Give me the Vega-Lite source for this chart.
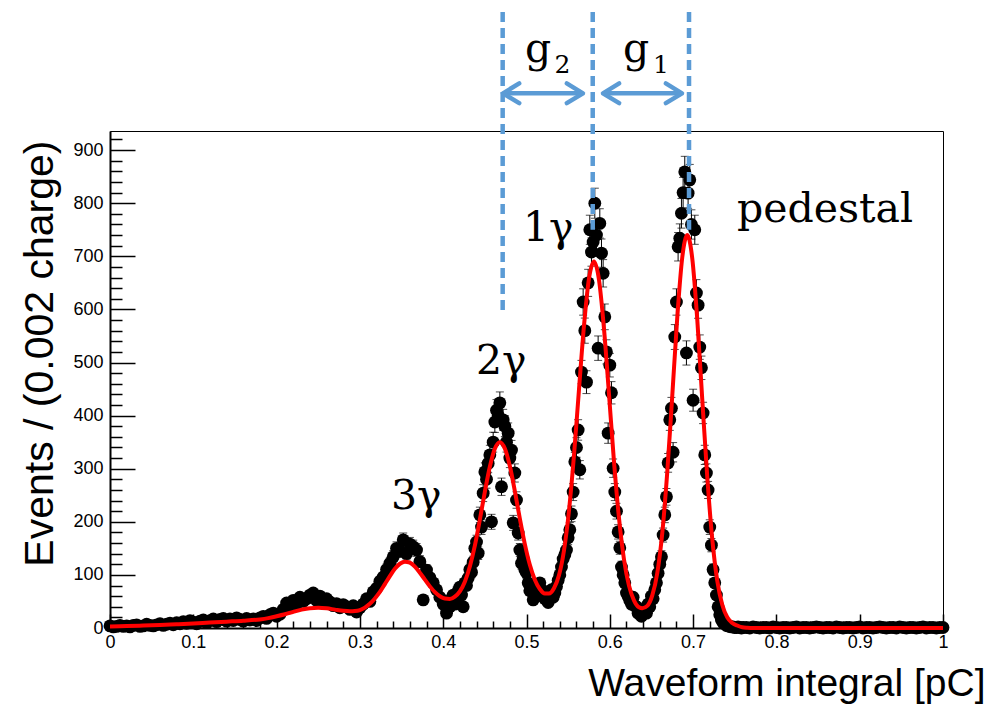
{
  "$schema": "https://vega.github.io/schema/vega-lite/v6.json",
  "autosize": {"type": "none"},
  "padding": {"left": 110, "top": 131, "right": 49, "bottom": 80},
  "width": 833,
  "height": 497,
  "background": "white",
  "config": {
    "view": {"stroke": "black", "strokeWidth": 1},
    "axis": {
      "domainColor": "black", "domainWidth": 2, "tickColor": "black", "tickWidth": 1.5,
      "labelColor": "black", "labelFont": "Liberation Sans", "labelFontSize": 18,
      "titleColor": "black", "titleFont": "Liberation Sans", "titleFontWeight": "normal",
      "grid": false, "labelFlush": false, "labelOverlap": false, "labelBound": false, "zindex": 1
    }
  },
  "datasets": {
    "hist": [
      {"x":0,"y":4},{"x":0.004,"y":2},{"x":0.008,"y":3},{"x":0.012,"y":5},{"x":0.016,"y":3},{"x":0.02,"y":4},{"x":0.024,"y":2},{"x":0.028,"y":5},{"x":0.032,"y":6},{"x":0.036,"y":3},{"x":0.04,"y":4},{"x":0.044,"y":7},{"x":0.048,"y":5},{"x":0.052,"y":4},{"x":0.056,"y":6},{"x":0.06,"y":8},{"x":0.064,"y":5},{"x":0.068,"y":7},{"x":0.072,"y":9},{"x":0.076,"y":6},{"x":0.08,"y":10},{"x":0.084,"y":8},{"x":0.088,"y":12},{"x":0.092,"y":9},{"x":0.096,"y":14},{"x":0.1,"y":11},{"x":0.104,"y":8},{"x":0.108,"y":13},{"x":0.112,"y":15},{"x":0.116,"y":10},{"x":0.12,"y":14},{"x":0.124,"y":17},{"x":0.128,"y":12},{"x":0.132,"y":16},{"x":0.136,"y":18},{"x":0.14,"y":13},{"x":0.144,"y":17},{"x":0.148,"y":14},{"x":0.152,"y":19},{"x":0.156,"y":16},{"x":0.16,"y":13},{"x":0.164,"y":18},{"x":0.168,"y":15},{"x":0.172,"y":17},{"x":0.176,"y":14},{"x":0.18,"y":19},{"x":0.184,"y":22},{"x":0.188,"y":18},{"x":0.192,"y":25},{"x":0.196,"y":28},{"x":0.2,"y":22},{"x":0.204,"y":26},{"x":0.208,"y":35},{"x":0.212,"y":47},{"x":0.216,"y":38},{"x":0.22,"y":52},{"x":0.224,"y":45},{"x":0.228,"y":58},{"x":0.232,"y":50},{"x":0.236,"y":55},{"x":0.24,"y":62},{"x":0.244,"y":66},{"x":0.248,"y":52},{"x":0.252,"y":60},{"x":0.256,"y":48},{"x":0.26,"y":55},{"x":0.264,"y":49},{"x":0.268,"y":42},{"x":0.272,"y":46},{"x":0.276,"y":38},{"x":0.28,"y":44},{"x":0.284,"y":40},{"x":0.288,"y":35},{"x":0.292,"y":42},{"x":0.296,"y":30},
      {"x":0.3,"y":38},{"x":0.304,"y":45},{"x":0.308,"y":55},{"x":0.312,"y":50},{"x":0.316,"y":68},{"x":0.32,"y":75},{"x":0.324,"y":88},{"x":0.328,"y":96},{"x":0.332,"y":110,"e":10.5},{"x":0.336,"y":122,"e":11},{"x":0.34,"y":134,"e":11.6},{"x":0.344,"y":150,"e":12.2},{"x":0.348,"y":145,"e":12},{"x":0.352,"y":166,"e":12.9},{"x":0.356,"y":140,"e":11.8},{"x":0.36,"y":158,"e":12.6},{"x":0.364,"y":153,"e":12.4},{"x":0.368,"y":147,"e":12.1},{"x":0.372,"y":125,"e":11.2},{"x":0.376,"y":53},{"x":0.38,"y":109,"e":10.4},{"x":0.384,"y":95},{"x":0.388,"y":85},{"x":0.392,"y":72},{"x":0.396,"y":58},
      {"x":0.4,"y":45},{"x":0.402,"y":50},{"x":0.404,"y":28},{"x":0.406,"y":48},{"x":0.408,"y":40},{"x":0.41,"y":55},{"x":0.412,"y":62},{"x":0.414,"y":45},{"x":0.416,"y":60},{"x":0.418,"y":70},{"x":0.42,"y":77},{"x":0.422,"y":62},{"x":0.424,"y":40},{"x":0.426,"y":85},{"x":0.428,"y":80},{"x":0.43,"y":94},{"x":0.432,"y":110,"e":10.5},{"x":0.434,"y":105,"e":10.2},{"x":0.436,"y":124,"e":11.1},{"x":0.438,"y":150,"e":12.2},{"x":0.44,"y":162,"e":12.7},{"x":0.442,"y":141,"e":11.9},{"x":0.444,"y":213,"e":14.6},{"x":0.446,"y":190,"e":13.8},{"x":0.448,"y":254,"e":15.9},{"x":0.45,"y":294,"e":17.1},{"x":0.452,"y":280,"e":16.7},{"x":0.454,"y":310,"e":17.6},{"x":0.456,"y":326,"e":18.1},{"x":0.458,"y":200,"e":14.1},{"x":0.46,"y":350,"e":18.7},{"x":0.462,"y":388,"e":19.7},{"x":0.464,"y":410,"e":20.2},{"x":0.466,"y":400,"e":20},{"x":0.468,"y":424,"e":20.6},{"x":0.47,"y":266,"e":16.3},{"x":0.472,"y":392,"e":19.8},{"x":0.474,"y":380,"e":19.5},{"x":0.476,"y":350,"e":18.7},{"x":0.478,"y":367,"e":19.2},{"x":0.48,"y":320,"e":17.9},{"x":0.482,"y":335,"e":18.3},{"x":0.484,"y":198,"e":14.1},{"x":0.486,"y":292,"e":17.1},{"x":0.488,"y":241,"e":15.5},{"x":0.49,"y":179,"e":13.4},{"x":0.492,"y":147,"e":12.1},{"x":0.494,"y":122,"e":11},{"x":0.496,"y":130,"e":11.4},{"x":0.498,"y":110,"e":10.5},{"x":0.5,"y":104,"e":10.2},{"x":0.502,"y":85},{"x":0.504,"y":70},{"x":0.506,"y":77},{"x":0.508,"y":53},{"x":0.51,"y":77},{"x":0.512,"y":60},{"x":0.514,"y":70},{"x":0.516,"y":85},{"x":0.518,"y":65},
      {"x":0.52,"y":70},{"x":0.522,"y":55},{"x":0.524,"y":62},{"x":0.526,"y":48},{"x":0.528,"y":60},{"x":0.53,"y":72},{"x":0.532,"y":58},{"x":0.534,"y":66},{"x":0.536,"y":78},{"x":0.538,"y":90},{"x":0.54,"y":100,"e":10},{"x":0.542,"y":115,"e":10.7},{"x":0.544,"y":130,"e":11.4},{"x":0.546,"y":138,"e":11.7},{"x":0.548,"y":147,"e":12.1},{"x":0.55,"y":170,"e":13},{"x":0.552,"y":185,"e":13.6},{"x":0.554,"y":215,"e":14.7},{"x":0.556,"y":256,"e":16},{"x":0.558,"y":313,"e":17.7},{"x":0.56,"y":340,"e":18.4},{"x":0.562,"y":373,"e":19.3},{"x":0.564,"y":298,"e":17.3},{"x":0.566,"y":482,"e":22},{"x":0.568,"y":614,"e":24.8},{"x":0.57,"y":560,"e":23.7},{"x":0.572,"y":463,"e":21.5},{"x":0.574,"y":650,"e":25.5},{"x":0.576,"y":750,"e":27.4},{"x":0.578,"y":708,"e":26.6},{"x":0.58,"y":727,"e":27},{"x":0.582,"y":800,"e":28.3},{"x":0.584,"y":740,"e":27.2},{"x":0.586,"y":527,"e":23},{"x":0.588,"y":762,"e":27.6},{"x":0.59,"y":706,"e":26.6},{"x":0.592,"y":668,"e":25.8},{"x":0.594,"y":586,"e":24.2},{"x":0.596,"y":520,"e":22.8},{"x":0.598,"y":367,"e":19.2},{"x":0.6,"y":495,"e":22.2},{"x":0.602,"y":443,"e":21},{"x":0.604,"y":301,"e":17.3},{"x":0.606,"y":256,"e":16},{"x":0.608,"y":220,"e":14.8},{"x":0.61,"y":181,"e":13.5},{"x":0.612,"y":151,"e":12.3},{"x":0.614,"y":115,"e":10.7},{"x":0.616,"y":100,"e":10},{"x":0.618,"y":85},{"x":0.62,"y":66},{"x":0.622,"y":60},{"x":0.624,"y":52},{"x":0.626,"y":45},{"x":0.628,"y":58},{"x":0.63,"y":42},{"x":0.632,"y":40},{"x":0.634,"y":28},
      {"x":0.636,"y":30},{"x":0.638,"y":22},{"x":0.64,"y":35},{"x":0.642,"y":30},{"x":0.644,"y":28},{"x":0.646,"y":45},{"x":0.648,"y":40},{"x":0.65,"y":60},{"x":0.652,"y":55},{"x":0.654,"y":72},{"x":0.656,"y":85},{"x":0.658,"y":103,"e":10.1},{"x":0.66,"y":120,"e":11},{"x":0.662,"y":134,"e":11.6},{"x":0.664,"y":175,"e":13.2},{"x":0.666,"y":213,"e":14.6},{"x":0.668,"y":247,"e":15.7},{"x":0.67,"y":311,"e":17.6},{"x":0.672,"y":392,"e":19.8},{"x":0.674,"y":414,"e":20.3},{"x":0.676,"y":331,"e":18.2},{"x":0.678,"y":548,"e":23.4},{"x":0.68,"y":614,"e":24.8},{"x":0.682,"y":718,"e":26.8},{"x":0.684,"y":734,"e":27.1},{"x":0.686,"y":781,"e":27.9},{"x":0.688,"y":820,"e":28.6},{"x":0.69,"y":859,"e":29.3},{"x":0.692,"y":518,"e":22.8},{"x":0.694,"y":819,"e":28.6},{"x":0.696,"y":844,"e":29.1},{"x":0.698,"y":760,"e":27.6},{"x":0.7,"y":429,"e":20.7},{"x":0.702,"y":750,"e":27.4},{"x":0.704,"y":631,"e":25.1},{"x":0.706,"y":608,"e":24.7},{"x":0.708,"y":529,"e":23},{"x":0.71,"y":490,"e":22.1},{"x":0.712,"y":405,"e":20.1},{"x":0.714,"y":326,"e":18.1},{"x":0.716,"y":292,"e":17.1},{"x":0.718,"y":260,"e":16.1},{"x":0.72,"y":190,"e":13.8},{"x":0.722,"y":156,"e":12.5},{"x":0.724,"y":110,"e":10.5},{"x":0.726,"y":85},{"x":0.728,"y":62},{"x":0.73,"y":40},{"x":0.732,"y":25},{"x":0.734,"y":15},{"x":0.736,"y":10},{"x":0.738,"y":8},{"x":0.74,"y":5},{"x":0.742,"y":4},{"x":0.744,"y":3},{"x":0.746,"y":2},{"x":0.748,"y":2},{"x":0.75,"y":1},
      {"x":0.752,"y":1},{"x":0.754,"y":2},{"x":0.756,"y":1},{"x":0.758,"y":0},{"x":0.76,"y":1},{"x":0.764,"y":1},{"x":0.768,"y":0},{"x":0.772,"y":2},{"x":0.776,"y":1},{"x":0.78,"y":0},{"x":0.784,"y":1},{"x":0.788,"y":1},{"x":0.792,"y":0},{"x":0.796,"y":2},{"x":0.8,"y":1},{"x":0.804,"y":0},{"x":0.808,"y":1},{"x":0.812,"y":1},{"x":0.816,"y":0},{"x":0.82,"y":1},{"x":0.824,"y":2},{"x":0.828,"y":0},{"x":0.832,"y":1},{"x":0.836,"y":1},{"x":0.84,"y":0},{"x":0.844,"y":1},{"x":0.848,"y":2},{"x":0.852,"y":1},{"x":0.856,"y":0},{"x":0.86,"y":1},{"x":0.864,"y":1},{"x":0.868,"y":0},{"x":0.872,"y":2},{"x":0.876,"y":1},{"x":0.88,"y":0},{"x":0.884,"y":1},{"x":0.888,"y":1},{"x":0.892,"y":0},{"x":0.896,"y":1},{"x":0.9,"y":2},{"x":0.904,"y":0},{"x":0.908,"y":1},{"x":0.912,"y":1},{"x":0.916,"y":0},{"x":0.92,"y":1},{"x":0.924,"y":2},{"x":0.928,"y":1},{"x":0.932,"y":0},{"x":0.936,"y":1},{"x":0.94,"y":1},{"x":0.944,"y":0},{"x":0.948,"y":2},{"x":0.952,"y":1},{"x":0.956,"y":0},{"x":0.96,"y":1},{"x":0.964,"y":1},{"x":0.968,"y":0},{"x":0.972,"y":1},{"x":0.976,"y":2},{"x":0.98,"y":0},{"x":0.984,"y":1},{"x":0.988,"y":1},{"x":0.992,"y":0},{"x":0.996,"y":1},{"x":1,"y":1}
    ],
    "fit": [
      {"x":0,"y":3},{"x":0.02,"y":3.7},{"x":0.04,"y":4.5},{"x":0.06,"y":5.5},{"x":0.08,"y":7},{"x":0.1,"y":8.5},{"x":0.12,"y":10.3},{"x":0.14,"y":12},{"x":0.16,"y":13.7},{"x":0.18,"y":16.2},{"x":0.19,"y":18.6},{"x":0.2,"y":22},{"x":0.21,"y":25.8},{"x":0.22,"y":30.4},{"x":0.23,"y":34.6},{"x":0.24,"y":37.4},{"x":0.25,"y":38.2},{"x":0.26,"y":37.1},{"x":0.27,"y":34.6},{"x":0.28,"y":32.3},{"x":0.288,"y":31.5},{"x":0.294,"y":31.9},{"x":0.3,"y":33.8},{"x":0.306,"y":38.4},{"x":0.312,"y":45.5},{"x":0.318,"y":55.6},{"x":0.324,"y":67.9},{"x":0.33,"y":82.7},{"x":0.336,"y":97.7},{"x":0.342,"y":111.6},{"x":0.348,"y":121},{"x":0.354,"y":125},{"x":0.36,"y":123},{"x":0.366,"y":115.6},{"x":0.372,"y":104.2},{"x":0.378,"y":91.2},{"x":0.384,"y":78.4},{"x":0.39,"y":67.5},{"x":0.396,"y":59.8},{"x":0.402,"y":55.4},{"x":0.408,"y":54.7},{"x":0.414,"y":59},{"x":0.42,"y":69},{"x":0.426,"y":87.3},{"x":0.432,"y":115.8},{"x":0.438,"y":155},{"x":0.444,"y":204},{"x":0.45,"y":256.5},{"x":0.456,"y":303.7},{"x":0.462,"y":337.5},{"x":0.468,"y":350},{"x":0.474,"y":338},{"x":0.48,"y":305},{"x":0.486,"y":258},{"x":0.492,"y":206},{"x":0.498,"y":158},{"x":0.504,"y":119},{"x":0.51,"y":91},{"x":0.516,"y":73.4},{"x":0.522,"y":65},{"x":0.527,"y":64.9},{"x":0.533,"y":74.9},{"x":0.539,"y":99.2},{"x":0.545,"y":146},{"x":0.551,"y":221},{"x":0.557,"y":325},{"x":0.563,"y":449},{"x":0.569,"y":569},{"x":0.575,"y":658},{"x":0.581,"y":690},{"x":0.587,"y":656},{"x":0.593,"y":564},{"x":0.599,"y":441},{"x":0.605,"y":314},{"x":0.611,"y":207.5},{"x":0.617,"y":129.6},{"x":0.623,"y":79.9},{"x":0.629,"y":52.1},{"x":0.635,"y":39.1},{"x":0.639,"y":37.3},{"x":0.645,"y":41.7},{"x":0.651,"y":61.4},{"x":0.657,"y":103.6},{"x":0.663,"y":179},{"x":0.669,"y":294},{"x":0.675,"y":437.5},{"x":0.681,"y":585},{"x":0.687,"y":698},{"x":0.693,"y":740},{"x":0.699,"y":696},{"x":0.705,"y":581},{"x":0.711,"y":430.5},{"x":0.717,"y":284.5},{"x":0.723,"y":167.5},{"x":0.729,"y":89},{"x":0.735,"y":43.8},{"x":0.741,"y":20.2},{"x":0.747,"y":9.4},{"x":0.753,"y":4.7},{"x":0.759,"y":1.3},{"x":0.765,"y":0.4},{"x":0.772,"y":0},{"x":1,"y":0}
    ],
    "vlines": [
      {"x":0.4714,"y":1160,"y2":589},
      {"x":0.5795,"y":1160,"y2":750},
      {"x":0.6951,"y":1160,"y2":750}
    ],
    "shafts": [
      {"x":0.4728,"x2":0.5668,"y":1007},
      {"x":0.5928,"x2":0.6857,"y":1007}
    ],
    "heads": [
      {"x":0.4718,"y":1007,"dir":"L"},
      {"x":0.5678,"y":1007,"dir":"R"},
      {"x":0.5918,"y":1007,"dir":"L"},
      {"x":0.6867,"y":1007,"dir":"R"}
    ],
    "labels": [
      {"x":0.7527,"y":765,"t":"pedestal"},
      {"x":0.4958,"y":729,"t":"1γ"},
      {"x":0.4394,"y":478,"t":"2γ"},
      {"x":0.3373,"y":224,"t":"3γ"},
      {"x":0.4982,"y":1066,"t":"g"},
      {"x":0.6158,"y":1066,"t":"g"}
    ],
    "subs": [
      {"x":0.5336,"y":1045,"t":"2"},
      {"x":0.6518,"y":1045,"t":"1"}
    ]
  },
  "encoding": {
    "x": {
      "field": "x", "type": "quantitative",
      "scale": {"domain": [0, 1], "nice": false, "zero": false},
      "axis": {
        "title": "Waveform integral [pC]", "titleFontSize": 39,
        "titleAnchor": null, "titleAlign": "right", "titleBaseline": "alphabetic", "titleX": 875, "titleY": 67,
        "values": [0,0.02,0.04,0.06,0.08,0.1,0.12,0.14,0.16,0.18,0.2,0.22,0.24,0.26,0.28,0.3,0.32,0.34,0.36,0.38,0.4,0.42,0.44,0.46,0.48,0.5,0.52,0.54,0.56,0.58,0.6,0.62,0.64,0.66,0.68,0.7,0.72,0.74,0.76,0.78,0.8,0.82,0.84,0.86,0.88,0.9,0.92,0.94,0.96,0.98,1],
        "labelExpr": "abs(datum.value*10 - round(datum.value*10)) < 0.000001 ? format(datum.value, '~g') : ''",
        "tickSize": {"condition": {"test": "abs(datum.value*10 - round(datum.value*10)) < 0.000001", "value": -14}, "value": -7},
        "labelPadding": 19
      }
    },
    "y": {
      "field": "y", "type": "quantitative",
      "scale": {"domain": [0, 936], "nice": false},
      "axis": {
        "title": "Events / (0.002 charge)", "titleFontSize": 41,
        "titleAnchor": null, "titleAngle": -90, "titleAlign": "right", "titleBaseline": "alphabetic", "titleX": -58, "titleY": 9,
        "values": [0,20,40,60,80,100,120,140,160,180,200,220,240,260,280,300,320,340,360,380,400,420,440,460,480,500,520,540,560,580,600,620,640,660,680,700,720,740,760,780,800,820,840,860,880,900,920],
        "labelExpr": "datum.value % 100 === 0 ? format(datum.value, 'd') : ''",
        "tickSize": {"condition": {"test": "datum.value % 100 === 0", "value": -25}, "value": -12},
        "labelPadding": 32
      }
    }
  },
  "layer": [
    {
      "data": {"name": "hist"},
      "transform": [{"filter": "isValid(datum.e)"}],
      "mark": {"type": "errorbar", "color": "black", "thickness": 1, "ticks": {"size": 8, "thickness": 1, "color": "black"}},
      "encoding": {"yError": {"field": "e"}}
    },
    {
      "data": {"name": "hist"},
      "mark": {"type": "circle", "size": 165, "color": "black", "opacity": 1}
    },
    {
      "data": {"name": "fit"},
      "mark": {"type": "line", "color": "#ff0000", "strokeWidth": 4, "interpolate": "monotone"}
    },
    {
      "data": {"name": "vlines"},
      "mark": {"type": "rule", "color": "#5B9BD5", "strokeWidth": 4.5, "strokeDash": [10, 6]},
      "encoding": {"y2": {"field": "y2"}}
    },
    {
      "data": {"name": "shafts"},
      "mark": {"type": "rule", "color": "#5B9BD5", "strokeWidth": 4.5},
      "encoding": {"x2": {"field": "x2"}}
    },
    {
      "data": {"name": "heads"},
      "mark": {"type": "point", "filled": false, "color": "#5B9BD5", "strokeWidth": 4.5, "size": 324, "opacity": 1, "strokeCap": "round", "strokeJoin": "round"},
      "encoding": {
        "shape": {"field": "dir", "type": "nominal", "legend": null, "scale": {"domain": ["L", "R"], "range": ["M1.8,-1.1L0,0L1.8,1.1", "M-1.8,-1.1L0,0L-1.8,1.1"]}}
      }
    },
    {
      "data": {"name": "labels"},
      "mark": {"type": "text", "font": "DejaVu Serif", "fontSize": 41, "align": "left", "baseline": "alphabetic", "color": "black"},
      "encoding": {"text": {"field": "t"}}
    },
    {
      "data": {"name": "subs"},
      "mark": {"type": "text", "font": "DejaVu Serif", "fontSize": 25, "align": "left", "baseline": "alphabetic", "color": "black"},
      "encoding": {"text": {"field": "t"}}
    }
  ]
}
